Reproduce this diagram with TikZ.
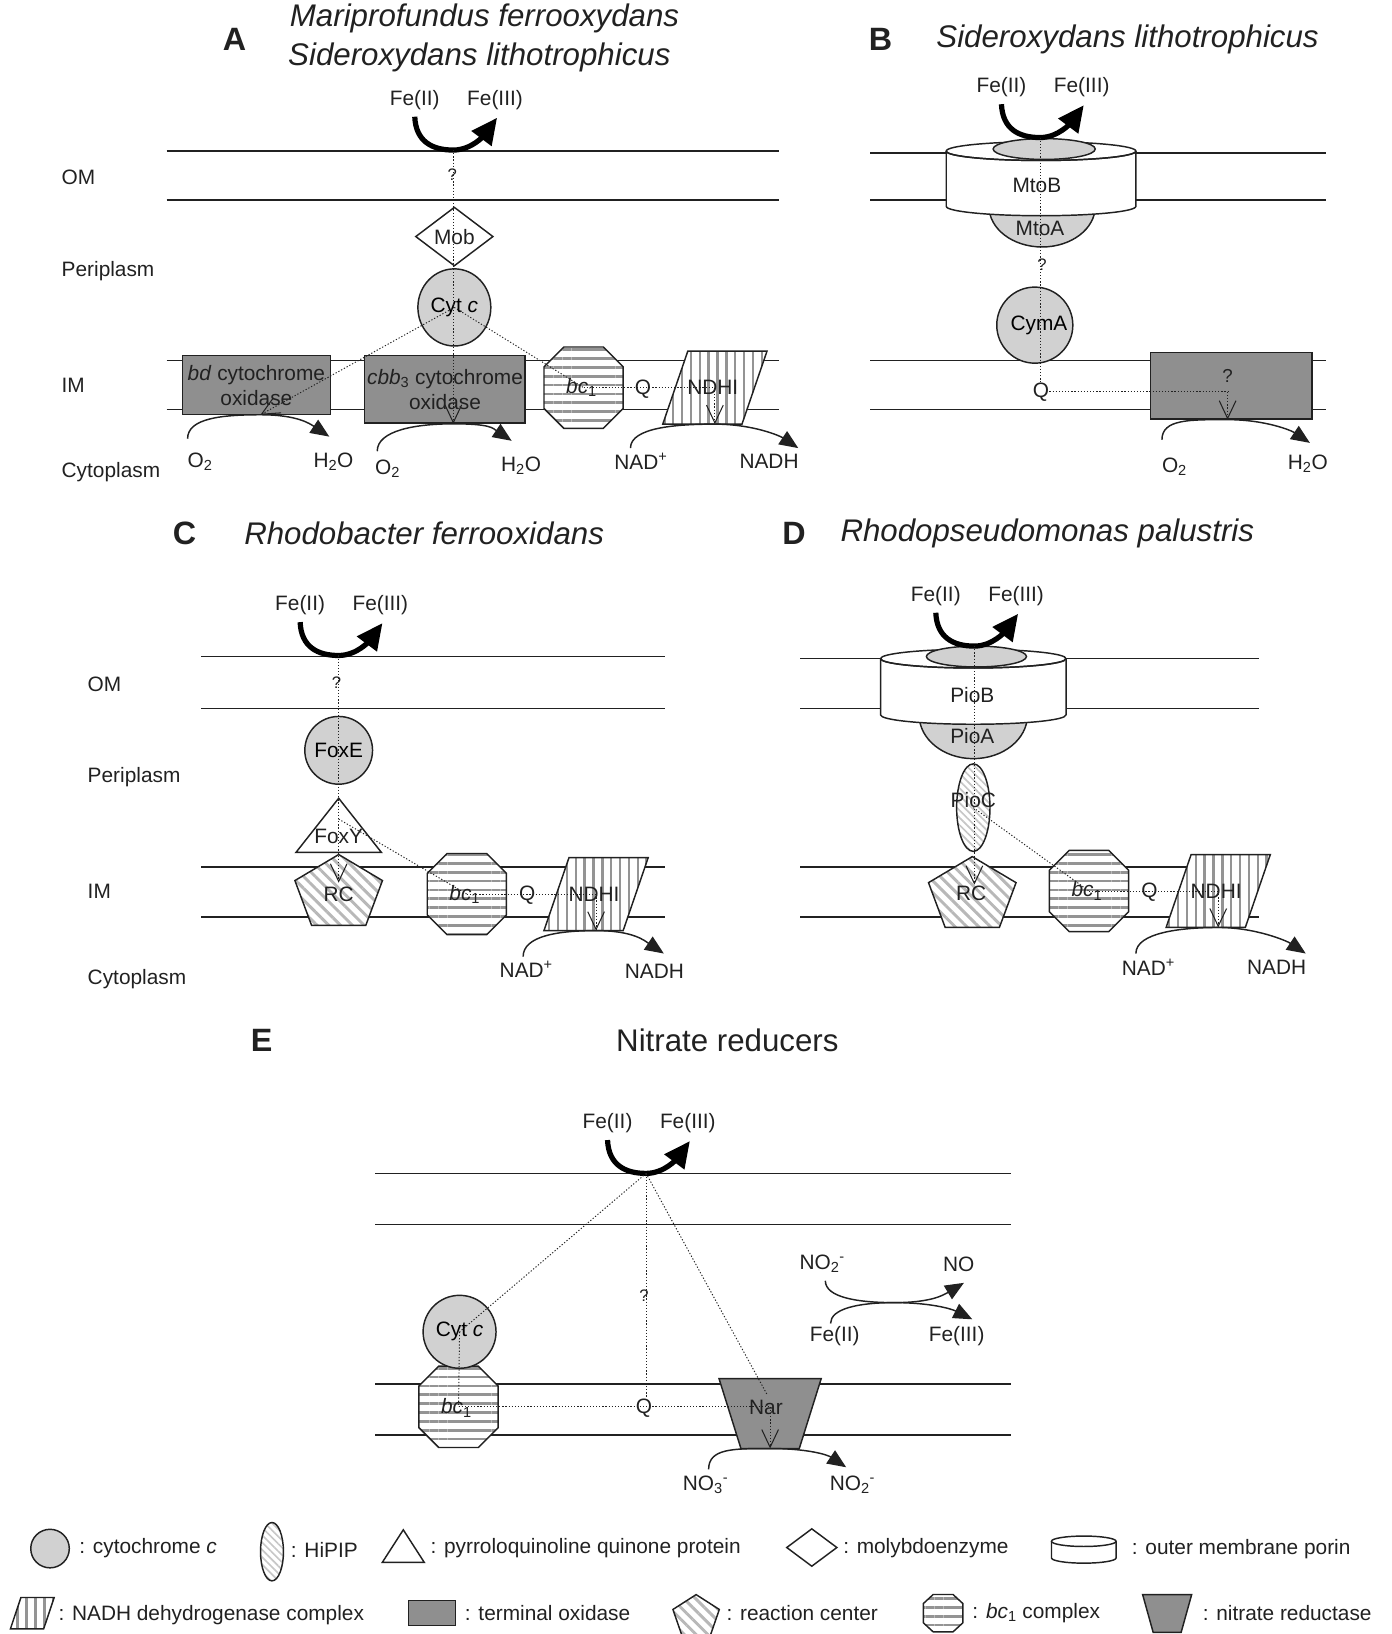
\documentclass[tikz,border=0pt]{standalone}
\usepackage{fontspec}
\setmainfont{Liberation Sans}
\usetikzlibrary{arrows.meta,patterns.meta,calc,shapes.geometric}
\definecolor{ink}{gray}{0.13}
\definecolor{cytg}{gray}{0.82}
\definecolor{darkg}{gray}{0.56}
\definecolor{stripeg}{gray}{0.58}
\definecolor{hatchg}{gray}{0.72}
\definecolor{hipipg}{gray}{0.78}
\newcommand\lblfont{\fontsize{20}{24}\selectfont}
\newcommand\qfont{\fontsize{16}{18}\selectfont}
\newcommand\ttlfont{\fontsize{30}{34}\selectfont}
\tikzset{
 mem/.style={line width=1.5pt, draw=ink},
 shp/.style={line width=1.4pt, draw=ink},
 cyt/.style={shp, fill=cytg, inner sep=0pt},
 oxbox/.style={shp, fill=darkg, inner sep=0pt, align=center, font=\lblfont, text=ink},
 dotcon/.style={line width=0.9pt, draw=ink, dash pattern=on 1.2pt off 1.8pt},
 vtip/.style={-{Straight Barb[length=17pt,width=16pt,line width=1pt]}},
 fearr/.style={line width=5pt, draw=black, -{Triangle[length=25pt,width=23pt]}},
 rxn/.style={line width=1.4pt, draw=ink, -{Triangle[length=18pt,width=15pt]}},
 bcfill/.style={shp, preaction={fill=white}, pattern={Lines[angle=0,distance=8.5pt,line width=2.6pt]}, pattern color=stripeg},
 ndfill/.style={shp, preaction={fill=white}, pattern={Lines[angle=90,distance=8.5pt,line width=2.4pt]}, pattern color=stripeg},
 rcfill/.style={shp, preaction={fill=white}, pattern={Lines[angle=-45,distance=8pt,line width=2.8pt]}, pattern color=hatchg},
 hpfill/.style={shp, preaction={fill=white}, pattern={Lines[angle=-45,distance=5pt,line width=1.6pt]}, pattern color=hipipg},
 darkfill/.style={shp, fill=darkg},
 lbl/.style={font=\lblfont, text=ink, inner sep=0pt},
 qm/.style={font=\qfont, text=ink, inner sep=0pt},
 ttl/.style={font=\ttlfont\itshape, text=ink, inner sep=0pt},
 ttlup/.style={font=\ttlfont, text=ink, inner sep=0pt},
 panelletter/.style={font=\fontsize{31}{34}\selectfont\bfseries, text=ink, inner sep=0pt},
}
% shapes drawn round a named centre
\newcommand\bcone[2]{\coordinate (#1) at (#2);
 \draw[bcfill] (#1) ++(-38,-20) -- ++(19,-19) -- ++(38,0) -- ++(19,19) -- ++(0,40) -- ++(-19,19) -- ++(-38,0) -- ++(-19,-19) -- cycle;}
\newcommand\ndhi[2]{\coordinate (#1) at (#2);
 \coordinate (#1b) at ($(#1)+(0,35)$);
 \draw[ndfill] (#1) ++(-26,-35) -- ++(76,0) -- ++(-24,70) -- ++(-76,0) -- cycle;}
\newcommand\narshape[2]{\coordinate (#1) at (#2);
 \coordinate (#1b) at ($(#1)+(0,34)$);
 \draw[darkfill] (#1) ++(-49,-33) -- ++(98,0) -- ++(-21,67) -- ++(-56,0) -- cycle;}
\newcommand\rcshape[2]{\coordinate (#1) at (#2);
 \draw[rcfill] (#1) ++(0,-33) -- ++(42,25) -- ++(-16,43) -- ++(-52,0) -- ++(-16,-43) -- cycle;}
\newcommand\diashape[2]{\coordinate (#1) at (#2);
 \draw[shp, fill=white] (#1) ++(-37,0) -- ++(37,-28) -- ++(37,28) -- ++(-37,28) -- cycle;}
\newcommand\trishape[2]{\coordinate (#1) at (#2);
 \draw[shp, fill=white] (#1) ++(0,-35) -- ++(41,52) -- ++(-82,0) -- cycle;}
\newcommand\porin[6]{\coordinate (#1) at (#2,#3);
 \fill[white] (#2-#5,#3) -- (#2-#5,#4) arc[start angle=180,end angle=0,x radius=#5,y radius=#6] -- (#2+#5,#3) -- cycle;
 \draw[shp] (#2-#5,#3) -- (#2-#5,#4) arc[start angle=180,end angle=0,x radius=#5,y radius=#6] -- (#2+#5,#3);
 \draw[shp, fill=white] (#1) ellipse [x radius=#5, y radius=#6];}
\newcommand\fearrow[3]{\coordinate (#1) at (#2,#3);
 \draw[fearr] ($(#1)+(-37,-32)$) .. controls +(1,24) and +(-20,0) .. (#1) .. controls +(18,0) and +(-12,16) .. ($(#1)+(42,-31)$);
 \node[lbl] (#1a) at ($(#1)+(-37,-48)$) {Fe(II)};
 \node[lbl] (#1b) at ($(#1)+(40,-48)$) {Fe(III)};}
\newcommand\rxnarc[3]{\draw[rxn] (#1) .. controls +(0,-20) and +(-36,0) .. (#2) .. controls +(36,0) and +(-18,-12) .. (#3);}
\begin{document}
\begin{tikzpicture}[x=1pt,y=-1pt]
\useasboundingbox (0,0) rectangle (1335,1568);
% =================== Panel A
\node[panelletter] (la) at (225,38) {A};
\node[ttl] (ta1) at (465,18) {Mariprofundus ferrooxydans};
\node[ttl] (ta2) at (460,55) {Sideroxydans lithotrophicus};
\foreach \yy in {145,192,346,393} \draw[mem] (160,\yy) -- (748,\yy);
\node[lbl,anchor=west] (omA) at (59,170) {OM};
\node[lbl,anchor=west] (ppA) at (59,260) {Periplasm};
\node[lbl,anchor=west] (imA) at (59,370) {IM};
\node[lbl,anchor=west] (cyA) at (59,453) {Cytoplasm};
\node[oxbox, minimum width=142pt, minimum height=57pt] (bdA) at (246,369.5) {\textit{bd} cytochrome\\oxidase};
\node[oxbox, minimum width=154pt, minimum height=65pt] (cbbA) at (427,373.5) {\textit{cbb}\textsubscript{3} cytochrome\\oxidase};
\bcone{bcA}{560,372}
\node[lbl] (bcAt) at (558,372) {\textit{bc}\textsubscript{1}};
\ndhi{ndA}{686,372}
\node[lbl] (ndAt) at (684,372) {NDHI};
\node[lbl] (qA) at (617,373) {Q};
\diashape{mobA}{436,227}
\node[lbl] (mobAt) at (mobA) {Mob};
\node[cyt, ellipse, minimum width=70pt, minimum height=74pt, font=\lblfont] (cytA) at (436,295) {Cyt \textit{c}};
\node[qm] (qmA) at (434,168) {?};
\fearrow{feA}{435}{144}
\coordinate (bdAin) at (250,398);
\draw[dotcon, vtip] (feA) -- (feA |- cbbA.south);
\draw[dotcon, vtip] (cytA.center) -- (bdAin);
\draw[dotcon] (cytA.center) -- (bcA);
\draw[dotcon] (bcA) -- (ndA);
\draw[dotcon, vtip] (ndA) -- (ndAb);
\rxnarc{180,421}{bdAin}{316,419}
\rxnarc{362,433}{feA |- cbbA.south}{491,423}
\rxnarc{605,430}{ndAb}{766,430}
\node[lbl] (o2a) at (192,443) {O\textsubscript{2}};
\node[lbl] (h2oa) at (320,443) {H\textsubscript{2}O};
\node[lbl] (o2b) at (372,450) {O\textsubscript{2}};
\node[lbl] (h2ob) at (500,447) {H\textsubscript{2}O};
\node[lbl] (nadA) at (615,443) {NAD\textsuperscript{+}};
\node[lbl] (nadhA) at (738,443) {NADH};
% =================== Panel B
\node[panelletter] (lb) at (845,38) {B};
\node[ttl] (tb) at (1082,38) {Sideroxydans lithotrophicus};
\foreach \yy in {147,192,346,393} \draw[mem] (835,\yy) -- (1272,\yy);
\draw[shp, fill=cytg] (1000,198) ellipse [x radius=51, y radius=39];
\porin{porB}{999}{145}{198}{91}{9}
\draw[shp, fill=cytg] (1002,143) ellipse [x radius=49, y radius=10];
\draw[shp] (908,145) arc[start angle=180,end angle=0,x radius=91,y radius=9];
\node[lbl] (mtob) at (995,178) {MtoB};
\node[lbl] (mtoa) at (998,219) {MtoA};
\node[qm] (qmB) at (1000,254) {?};
\node[cyt, circle, minimum size=73pt, font=\lblfont] (cymA) at (993,312) {\hspace*{8pt}CymA};
\node[oxbox, minimum width=155pt, minimum height=64pt] (toxB) at (1181.5,370) {};
\node[qm, font=\fontsize{18}{20}\selectfont] (qmB2) at (1178,361) {?};
\node[lbl] (qB) at (999,376) {Q};
\fearrow{feB}{998}{132}
\coordinate (toxBin) at (1178,376);
\draw[dotcon] (feB) -- (feB |- qB.north);
\draw[dotcon] (qB.east) -- (toxBin);
\draw[dotcon, vtip] (toxBin) -- (toxBin |- toxB.south);
\rxnarc{1115,422}{toxBin |- toxB.south}{1257,425}
\node[lbl] (o2B) at (1127,448) {O\textsubscript{2}};
\node[lbl] (h2oB) at (1255,445) {H\textsubscript{2}O};
% =================== Panel C
\node[panelletter] (lc) at (177,512) {C};
\node[ttl] (tc) at (407,512) {Rhodobacter ferrooxidans};
\foreach \yy in {630,680,832,880} \draw[mem] (193,\yy) -- (638,\yy);
\node[lbl,anchor=west] (omC) at (84,657) {OM};
\node[lbl,anchor=west] (ppC) at (84,746) {Periplasm};
\node[lbl,anchor=west] (imC) at (84,855) {IM};
\node[lbl,anchor=west] (cyC) at (84,940) {Cytoplasm};
\node[cyt, circle, minimum size=65pt, font=\lblfont] (foxE) at (325,720) {FoxE};
\trishape{foxY}{325,801}
\node[lbl] (foxYt) at (325,803) {FoxY};
\rcshape{rcC}{325,853}
\node[lbl] (rcCt) at (325,858) {RC};
\bcone{bcC}{448,858}
\node[lbl] (bcCt) at (446,858) {\textit{bc}\textsubscript{1}};
\ndhi{ndC}{572,858}
\node[lbl] (ndCt) at (570,858) {NDHI};
\node[lbl] (qC) at (506,859) {Q};
\node[qm] (qmC) at (323,655) {?};
\fearrow{feC}{325}{629}
\coordinate (rcCin) at (325,847);
\coordinate (foxYc) at (325,786);
\draw[dotcon, vtip] (feC) -- (rcCin);
\draw[dotcon] (foxYc) -- (bcC);
\draw[dotcon] (bcC) -- (ndC);
\draw[dotcon, vtip] (ndC) -- (ndCb);
\rxnarc{502,918}{ndCb}{637,915}
\node[lbl] (nadC) at (505,930) {NAD\textsuperscript{+}};
\node[lbl] (nadhC) at (628,932) {NADH};
% =================== Panel D
\node[panelletter] (ld) at (762,512) {D};
\node[ttl] (td) at (1005,512) {Rhodopseudomonas palustris};
\foreach \yy in {632,680,832,880} \draw[mem] (768,\yy) -- (1208,\yy);
\draw[shp, fill=cytg] (934,686) ellipse [x radius=52, y radius=42];
\porin{porD}{934}{632}{686}{89}{9}
\draw[shp, fill=cytg] (937,630) ellipse [x radius=48, y radius=10];
\draw[shp] (845,632) arc[start angle=180,end angle=0,x radius=89,y radius=9];
\node[lbl] (piob) at (933,667) {PioB};
\node[lbl] (pioa) at (933,706) {PioA};
\node[hpfill, ellipse, minimum width=32pt, minimum height=84pt, inner sep=0pt] (pioC) at (934,775) {};
\node[lbl] (pioCt) at (934,768) {PioC};
\rcshape{rcD}{933,855}
\node[lbl] (rcDt) at (932,857) {RC};
\bcone{bcD}{1045,855}
\node[lbl] (bcDt) at (1043,855) {\textit{bc}\textsubscript{1}};
\ndhi{ndD}{1169,855}
\node[lbl] (ndDt) at (1167,855) {NDHI};
\node[lbl] (qD) at (1103,856) {Q};
\fearrow{feD}{935}{620}
\coordinate (rcDin) at (935,849);
\draw[dotcon, vtip] (feD) -- (rcDin);
\draw[dotcon] (pioC.center) -- (bcD);
\draw[dotcon] (bcD) -- (ndD);
\draw[dotcon, vtip] (ndD) -- (ndDb);
\rxnarc{1090,915}{ndDb}{1253,915}
\node[lbl] (nadD) at (1102,928) {NAD\textsuperscript{+}};
\node[lbl] (nadhD) at (1225,928) {NADH};
% =================== Panel E
\node[panelletter] (le) at (251,998) {E};
\node[ttlup] (te) at (698,998) {Nitrate reducers};
\foreach \yy in {1126,1175,1328,1377} \draw[mem] (360,\yy) -- (970,\yy);
\bcone{bcE}{440,1350}
\node[lbl] (bcEt) at (438,1351) {\textit{bc}\textsubscript{1}};
\node[cyt, circle, minimum size=70pt, font=\lblfont] (cytE) at (441,1278) {Cyt \textit{c}};
\narshape{nar}{739,1356}
\node[lbl] (nart) at (735,1351) {Nar};
\node[lbl] (qE) at (618,1351) {Q};
\node[qm] (qmE) at (618,1243) {?};
\fearrow{feE}{620}{1126}
\coordinate (narin) at (736,1338);
\coordinate (narq) at (739,1350);
\draw[dotcon] (feE) -- (cytE.center);
\draw[dotcon] (feE) -- (feE |- qE.north);
\draw[dotcon] (feE) -- (narin);
\draw[dotcon] (cytE.center) -- (bcE);
\draw[dotcon] (bcE) -- (narq);
\draw[dotcon, vtip] (narq) -- (narb);
\rxnarc{680,1410}{narb}{812,1408}
\node[lbl] (no3) at (677,1425) {NO\textsubscript{3}\textsuperscript{-}};
\node[lbl] (no2b) at (818,1425) {NO\textsubscript{2}\textsuperscript{-}};
\coordinate (xE) at (858,1250);
\draw[rxn] (792,1229) .. controls +(0,16) and +(-35,0) .. (xE) .. controls +(35,0) and +(-20,12) .. (925,1231);
\draw[rxn] (797,1270) .. controls +(0,-14) and +(-35,0) .. (xE) .. controls +(35,0) and +(-20,-10) .. (933,1266);
\node[lbl] (no2a) at (789,1213) {NO\textsubscript{2}\textsuperscript{-}};
\node[lbl] (noE) at (920,1213) {NO};
\node[lbl] (fe2E) at (801,1282) {Fe(II)};
\node[lbl] (fe3E) at (918,1282) {Fe(III)};
% =================== Legend
\node[cyt, circle, minimum size=37pt] (lgcyt) at (48,1486) {};
\node[lbl, anchor=west] (lgcytt) at (76,1486) {: cytochrome \textit{c}};
\node[hpfill, ellipse, minimum width=22pt, minimum height=56pt, inner sep=0pt] (lghp) at (261,1489) {};
\node[lbl, anchor=west] (lghpt) at (279,1487) {: HiPIP};
\begin{scope}[shift={(387,1489)}, xscale=0.49, yscale=0.6]
 \trishape{lgtri}{0,0}
\end{scope}
\node[lbl, anchor=west] (lgtrit) at (413,1486) {: pyrroloquinoline quinone protein};
\begin{scope}[shift={(779,1485)}, xscale=0.65, yscale=0.64]
 \diashape{lgdia}{0,0}
\end{scope}
\node[lbl, anchor=west] (lgdiat) at (809,1486) {: molybdoenzyme};
\porin{lgpor}{1040}{1479}{1495}{31}{5}
\node[lbl, anchor=west] (lgport) at (1086,1487) {: outer membrane porin};
\begin{scope}[shift={(31,1548)}, xscale=0.42, yscale=0.43]
 \ndhi{lgnd}{0,0}
\end{scope}
\node[lbl, anchor=west] (lgndt) at (56,1550) {: NADH dehydrogenase complex};
\node[darkfill, minimum width=45pt, minimum height=24pt, inner sep=0pt] (lgox) at (414.5,1548) {};
\node[lbl, anchor=west] (lgoxt) at (446,1548) {: terminal oxidase};
\begin{scope}[shift={(668,1549)}, xscale=0.53, yscale=0.57]
 \rcshape{lgrc}{0,0}
\end{scope}
\node[lbl, anchor=west] (lgrct) at (697,1548) {: reaction center};
\begin{scope}[shift={(905,1548)}, xscale=0.5, yscale=0.46]
 \bcone{lgbc}{0,0}
\end{scope}
\node[lbl, anchor=west] (lgbct) at (933,1548) {: \textit{bc}\textsubscript{1} complex};
\begin{scope}[shift={(1120,1548)}, xscale=0.48, yscale=0.54]
 \narshape{lgnar}{0,0}
\end{scope}
\node[lbl, anchor=west] (lgnart) at (1154,1548) {: nitrate reductase};
\end{tikzpicture}
\end{document}
